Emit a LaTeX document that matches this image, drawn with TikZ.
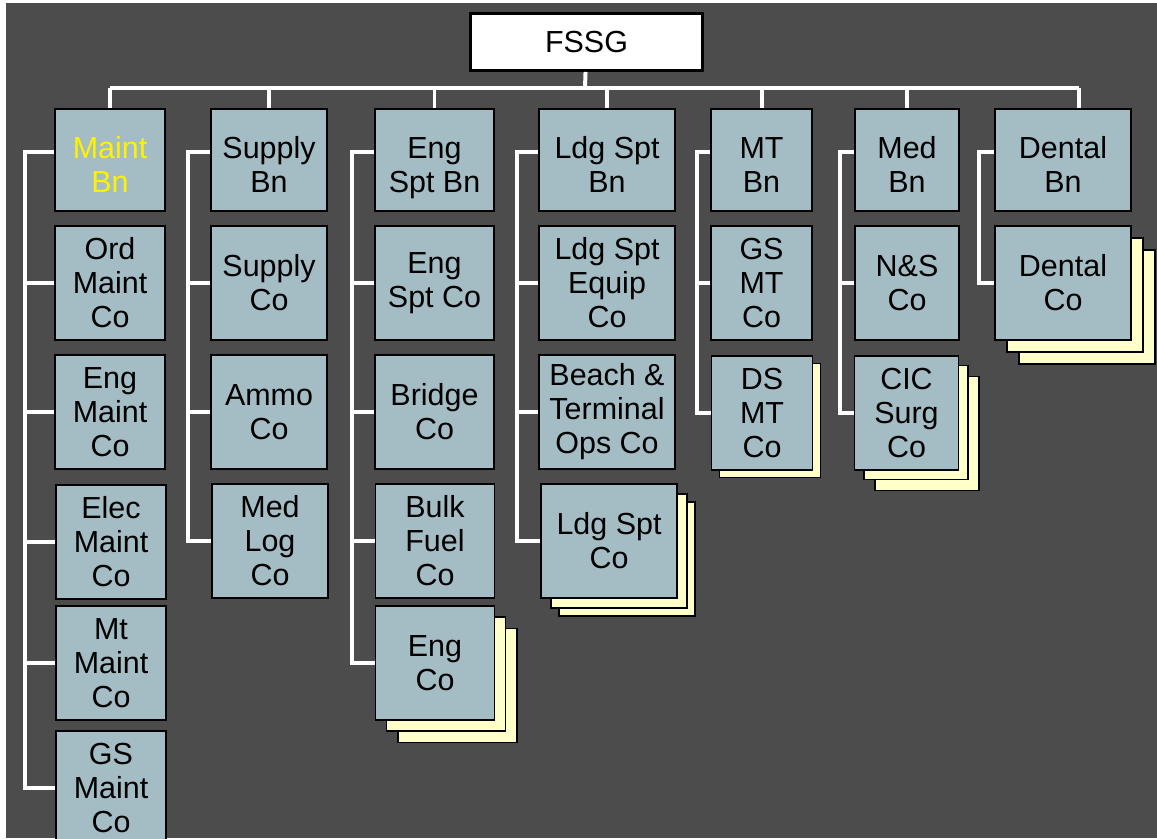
\documentclass[tikz,border=0pt]{standalone}
\usepackage{fontspec}
\setmainfont{Liberation Sans}
\usetikzlibrary{positioning, shadows}

\definecolor{slate}{RGB}{164,188,196}
\definecolor{pad}{RGB}{255,255,202}
\definecolor{board}{RGB}{76,76,76}

\begin{document}
\begin{tikzpicture}[x=0.03cm, y=-0.03cm,
    unit/.style={rectangle, draw=black, line width=1.2pt, fill=slate, align=center, inner sep=0pt, font=\fontsize{26}{29}\selectfont},
    bn/.style={unit, minimum height=3.06cm, text height=56pt, text depth=0pt},
    co/.style={unit, minimum height=3.42cm},
    pile/.style 2 args={general shadow={shadow xshift=#2, shadow yshift=-#2, fill=pad, draw=black},
                        general shadow={shadow xshift=#1, shadow yshift=-#1, fill=pad, draw=black}},
    link/.style={draw=white, line width=3.4pt}]

    \useasboundingbox (0,0) rectangle (1157,838);
    \fill[white] (0,0) rectangle (1157,838);
    \fill[board] (6,3) rectangle (1157,838);
    \clip (0,0) rectangle (1157,838);

    \node[draw=black, line width=2.5pt, fill=white, minimum width=6.96cm, minimum height=1.71cm, font=\fontsize{26}{29}\selectfont] (fssg) at (586.5,42) {FSSG};

    % Maint Bn
    \node[bn, minimum width=3.3cm, text=yellow] (maint) at (110,160) {Maint\\Bn};
    \node[co, minimum width=3.3cm] (ord) at (110,283) {Ord\\Maint\\Co};
    \node[co, minimum width=3.3cm] (engm) at (110,412) {Eng\\Maint\\Co};
    \node[co, minimum width=3.3cm] (elecm) at (111,542) {Elec\\Maint\\Co};
    \node[co, minimum width=3.3cm] (mtm) at (111,663) {Mt\\Maint\\Co};
    \node[co, minimum width=3.3cm] (gsm) at (111,788) {GS\\Maint\\Co};

    % Supply Bn
    \node[bn, minimum width=3.48cm] (supbn) at (269,160) {Supply\\Bn};
    \node[co, minimum width=3.48cm] (supco) at (269,283) {Supply\\Co};
    \node[co, minimum width=3.48cm] (ammo) at (269,412) {Ammo\\Co};
    \node[co, minimum width=3.48cm] (medlog) at (270,541) {Med\\Log\\Co};

    % Eng Spt Bn
    \node[bn, minimum width=3.57cm] (engbn) at (434.5,160) {Eng\\Spt Bn};
    \node[co, minimum width=3.57cm] (engspt) at (434.5,283) {Eng\\Spt Co};
    \node[co, minimum width=3.57cm] (bridge) at (434.5,412) {Bridge\\Co};
    \node[co, minimum width=3.57cm] (fuel) at (435,541) {Bulk\\Fuel\\Co};
    \node[co, minimum width=3.57cm, pile={0.33cm}{0.68cm}] (engco) at (435,663) {Eng\\Co};

    % Ldg Spt Bn
    \node[bn, minimum width=4.08cm] (ldgbn) at (607,160) {Ldg Spt\\Bn};
    \node[co, minimum width=4.08cm] (ldgeq) at (607,283) {Ldg Spt\\Equip\\Co};
    \node[co, minimum width=4.08cm] (beach) at (607,412) {Beach \&\\Terminal\\Ops Co};
    \node[co, minimum width=4.08cm, pile={0.3cm}{0.54cm}] (ldgco) at (609,541) {Ldg Spt\\Co};

    % MT Bn
    \node[bn, minimum width=3.03cm] (mtbn) at (761.5,160) {MT\\Bn};
    \node[co, minimum width=3.03cm] (gsmt) at (761.5,283) {GS\\MT\\Co};
    \node[co, minimum width=3.03cm, general shadow={shadow xshift=0.24cm, shadow yshift=-0.22cm, fill=pad, draw=black}] (dsmt) at (762,413) {DS\\MT\\Co};

    % Med Bn
    \node[bn, minimum width=3.12cm] (medbn) at (907,160) {Med\\Bn};
    \node[co, minimum width=3.12cm] (ns) at (907,283) {N\&S\\Co};
    \node[co, minimum width=3.12cm, pile={0.29cm}{0.62cm}] (cic) at (906.5,413) {CIC\\Surg\\Co};

    % Dental Bn
    \node[bn, minimum width=4.08cm] (dentbn) at (1063,160) {Dental\\Bn};
    \node[co, minimum width=4.08cm, pile={0.36cm}{0.72cm}] (dentco) at (1063,283) {Dental\\Co};

    % bus from FSSG
    \coordinate (bus) at (585,88);
    \coordinate (dtop) at ([xshift=14pt]dentbn.north);
    \draw[link] (fssg) -- (bus);
    \draw[link] (maint.north |- bus) -- (dtop |- bus);
    \foreach \n in {maint,supbn,engbn,ldgbn,mtbn,medbn}
        \draw[link] (\n) -- (\n.north |- bus);
    \draw[link] (dtop) -- (dtop |- bus);

    % spines
    \coordinate (s1) at (25,0);
    \coordinate (s2) at (188,0);
    \coordinate (s3) at (352,0);
    \coordinate (s4) at (517,0);
    \coordinate (s5) at (697,0);
    \coordinate (s6) at (840,0);
    \coordinate (s7) at (979,0);
    \foreach \t/\l/\s in {maint/gsm/s1, supbn/medlog/s2, engbn/engco/s3, ldgbn/ldgco/s4, mtbn/dsmt/s5, medbn/cic/s6, dentbn/dentco/s7}
        \draw[link] ([yshift=7pt]\t.west) -| (\s |- \l.west) -- (\l.west);
    \foreach \n/\s in {ord/s1, engm/s1, elecm/s1, mtm/s1, supco/s2, ammo/s2, engspt/s3, bridge/s3, fuel/s3, ldgeq/s4, beach/s4, gsmt/s5, ns/s6}
        \draw[link] (\n.west) -- (\n.west -| \s);
\end{tikzpicture}
\end{document}
